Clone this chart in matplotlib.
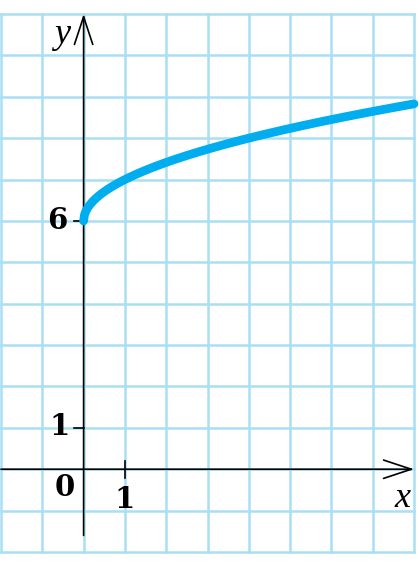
import numpy as np
import matplotlib
matplotlib.use("Agg")
import matplotlib.pyplot as plt

# graph of y = sqrt(x) + 6
shift = 6
x_min, x_max = -2, 8
y_min, y_max = -2, 11
x_ticks = [1]
y_ticks = [1, 6]

grid_col = "#a9dff4"
curve_col = "#00aeef"

fig = plt.figure(figsize=(4.2, 5.75), dpi=100)
ax = fig.add_axes([1 / 420, 23 / 575, 413 / 420, 538 / 575])
ax.set_xlim(x_min, x_max)
ax.set_ylim(y_min, y_max)
ax.axis("off")

# grid paper
for gx in range(x_min, x_max + 1):
    ax.axvline(gx, color=grid_col, lw=1.8, zorder=0, clip_on=False)
for gy in range(y_min, y_max + 1):
    ax.axhline(gy, color=grid_col, lw=1.8, zorder=0, clip_on=False)

# axes with open arrows
arw = dict(arrowstyle="->,head_length=1.0,head_width=0.33", lw=1.2,
           color="black", mutation_scale=20, shrinkA=0, shrinkB=0)
ax.annotate("", xy=(x_max, 0), xytext=(x_min, 0), arrowprops=arw,
            annotation_clip=False, zorder=3)
ax.annotate("", xy=(0, y_max), xytext=(0, -1.6), arrowprops=arw,
            annotation_clip=False, zorder=3)

# ticks
for t in y_ticks:
    ax.plot([-0.24, 0], [t, t], color="black", lw=1.2, zorder=3)
for t in x_ticks:
    ax.plot([t, t], [-0.2, 0.2], color="black", lw=1.2, zorder=3)

# curve
xs = np.linspace(0, x_max, 400)
ax.plot(xs, np.sqrt(xs) + shift, color=curve_col, lw=6.3,
        solid_capstyle="round", zorder=4, clip_on=False)

num = dict(family="DejaVu Serif", weight="bold", fontsize=21,
           ha="center", va="center")
ital = dict(family="Liberation Serif", style="italic", fontsize=26,
            ha="center", va="center")
ax.text(-0.64, 6, "6", **num)
ax.text(-0.58, 1.03, "1", **num)
ax.text(-0.46, -0.44, "0", **num)
ax.text(0.99, -0.73, "1", **num)
ax.text(-0.53, 10.5, "y", **ital)
ax.text(7.72, -0.7, "x", **ital)

fig.savefig("out.png", dpi=100)
